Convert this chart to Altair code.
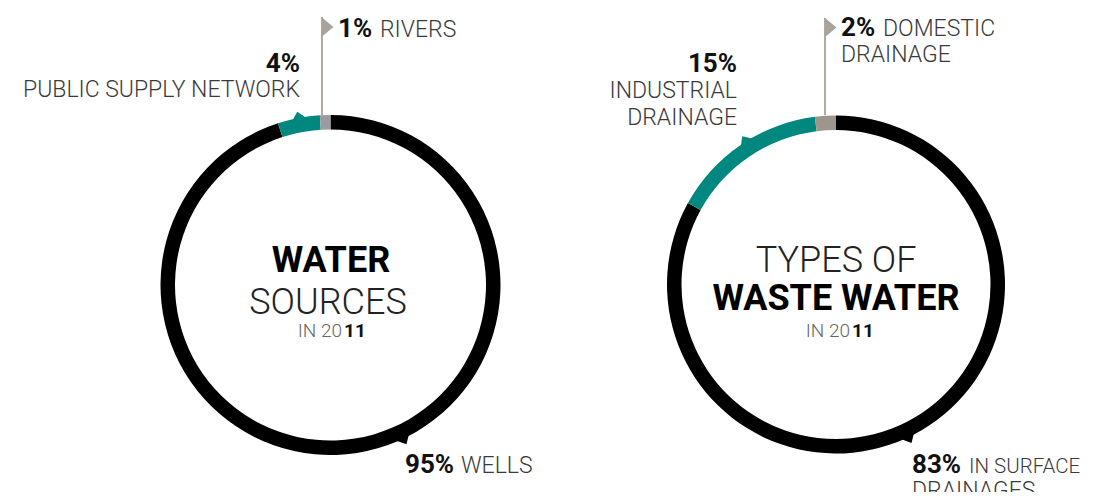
import altair as alt
import pandas as pd

# ---- data ----
src_cats = ["Wells", "Public supply network", "Rivers"]
src_vals = [95, 4, 1]
src_labels = ["WELLS", "PUBLIC SUPPLY NETWORK", "RIVERS"]

ww_cats = ["In surface drainages", "Industrial drainage", "Domestic drainage"]
ww_vals = [83, 15, 2]
ww_labels = ["IN SURFACE|DRAINAGES", "INDUSTRIAL|DRAINAGE", "DOMESTIC|DRAINAGE"]

titles_left = ["WATER", "SOURCES"]
titles_right = ["TYPES OF", "WASTE WATER"]
year_parts = ["IN 20", "11"]

# ---- style ----
OFF = 8
FONT = "Roboto"
BLACK = "#000000"
TEAL = "#00877f"
GRAY_L = "#9b9a9f"
GRAY_R = "#9e968c"
LEADER = "#a8a39b"
TXT = "#3a3a3a"
BOLD_TXT = "#111111"

colors = {
    "Wells": BLACK, "Public supply network": TEAL, "Rivers": GRAY_L,
    "In surface drainages": BLACK, "Industrial drainage": TEAL, "Domestic drainage": GRAY_R,
}
color_scale = alt.Scale(domain=list(colors.keys()), range=list(colors.values()))

LCX, LCY, LRO, LRI = 330.5, 285, 170, 155.5
RCX, RCY, RRO, RRI = 836, 284.5, 169, 154.5


def donut(cats, vals, cx, cy, ro, ri):
    df = pd.DataFrame({"cat": cats, "val": vals, "ord": list(range(len(cats)))})
    return alt.Chart(df).mark_arc(outerRadius=ro, innerRadius=ri, strokeWidth=0).encode(
        theta=alt.Theta("val:Q", stack=True),
        order=alt.Order("ord:Q"),
        color=alt.Color("cat:N", scale=color_scale, legend=None),
        x=alt.value(cx - OFF),
        y=alt.value(cy - OFF),
    )


def notches(fracs, cats, cx, cy, ro):
    df = pd.DataFrame({"f": fracs, "cat": cats})
    return alt.Chart(df).transform_calculate(
        px=f"{cx - OFF} + {ro} * sin(2 * PI * datum.f)",
        py=f"{cy - OFF} - {ro} * cos(2 * PI * datum.f)",
        ang="360 * datum.f",
    ).mark_point(shape="M-1,0.35L-0.1,-0.75L1,0.35Z", filled=True, opacity=1, size=300, strokeWidth=0).encode(
        x=alt.X("px:Q", scale=None),
        y=alt.Y("py:Q", scale=None),
        angle=alt.Angle("ang:Q", scale=None),
        color=alt.Color("cat:N", scale=color_scale, legend=None),
    )


def texts(rows, size, weight, align, color):
    df = pd.DataFrame(rows, columns=["t", "x", "y"])
    df["x"] = df["x"] - OFF
    df["y"] = df["y"] - OFF
    return alt.Chart(df).mark_text(
        font=FONT, fontSize=size, fontWeight=weight, align=align, baseline="alphabetic", color=color
    ).encode(x=alt.X("x:Q", scale=None), y=alt.Y("y:Q", scale=None), text="t:N")


pct = lambda v: f"{v}%"

layers = [
    donut(src_cats, src_vals, LCX, LCY, LRO, LRI),
    donut(ww_cats, ww_vals, RCX, RCY, RRO, RRI),
    notches([0.43, 0.9706], ["Wells", "Public supply network"], LCX, LCY, LRO),
    notches([0.43, 0.911], ["In surface drainages", "Industrial drainage"], RCX, RCY, RRO),
]

# leader lines with flags
lead = pd.DataFrame({"x": [322 - OFF, 825 - OFF], "y": [17 - OFF, 18 - OFF], "y2": [115 - OFF, 115 - OFF]})
layers.append(alt.Chart(lead).mark_rule(color=LEADER, strokeWidth=1.8).encode(
    x=alt.X("x:Q", scale=None), y=alt.Y("y:Q", scale=None), y2="y2:Q"))
flags = pd.DataFrame({"x": [327.6 - OFF, 830.6 - OFF], "y": [27 - OFF, 27.5 - OFF]})
layers.append(alt.Chart(flags).mark_point(shape="M-0.6,-1L0.6,0L-0.6,1Z", filled=True, opacity=1,
                                          size=380, color=LEADER, strokeWidth=0).encode(
    x=alt.X("x:Q", scale=None), y=alt.Y("y:Q", scale=None)))

# labels
sl = src_labels
wl = [s.split("|") for s in ww_labels]
layers += [
    # bold percentages, left aligned
    texts([[pct(src_vals[2]), 338, 37], [pct(src_vals[0]), 405, 473],
           [pct(ww_vals[2]), 841, 36], [pct(ww_vals[0]), 912, 473]], 26, 700, "left", BOLD_TXT),
    # bold percentages, right aligned
    texts([[pct(src_vals[1]), 300, 72], [pct(ww_vals[1]), 737, 72]], 26, 700, "right", BOLD_TXT),
    # light labels left
    texts([[sl[2], 380, 37], [sl[0], 461, 473],
           [wl[2][0], 883, 36], [wl[2][1], 841, 62],
           [wl[0][1], 912, 498]], 23, 300, "left", TXT),
    texts([[wl[0][0], 969, 473]], 20.5, 300, "left", TXT),
    # light labels right
    texts([[wl[1][0], 737, 98], [wl[1][1], 737, 125]], 23, 300, "right", TXT),
    texts([[sl[1], 300, 97]], 23, 300, "right", TXT),
    # center titles
    texts([[titles_left[0], 331, 272], [titles_right[1], 836, 310]], 36, 700, "center", BLACK),
    texts([[titles_left[1], 328, 314], [titles_right[0], 836, 272]], 36, 300, "center", "#222222"),
    texts([[year_parts[0], 342, 337], [year_parts[0], 850, 337]], 19, 300, "right", "#666666"),
    texts([[year_parts[1], 344, 337], [year_parts[1], 852, 337]], 19, 700, "left", BOLD_TXT),
]

chart = alt.layer(*layers).resolve_scale(theta="independent").properties(
    width=1083, height=484, padding=0, autosize=alt.AutoSizeParams(type="none")
).configure_view(stroke=None)

chart.save("out.html", embed_options={"renderer": "svg", "actions": False})
